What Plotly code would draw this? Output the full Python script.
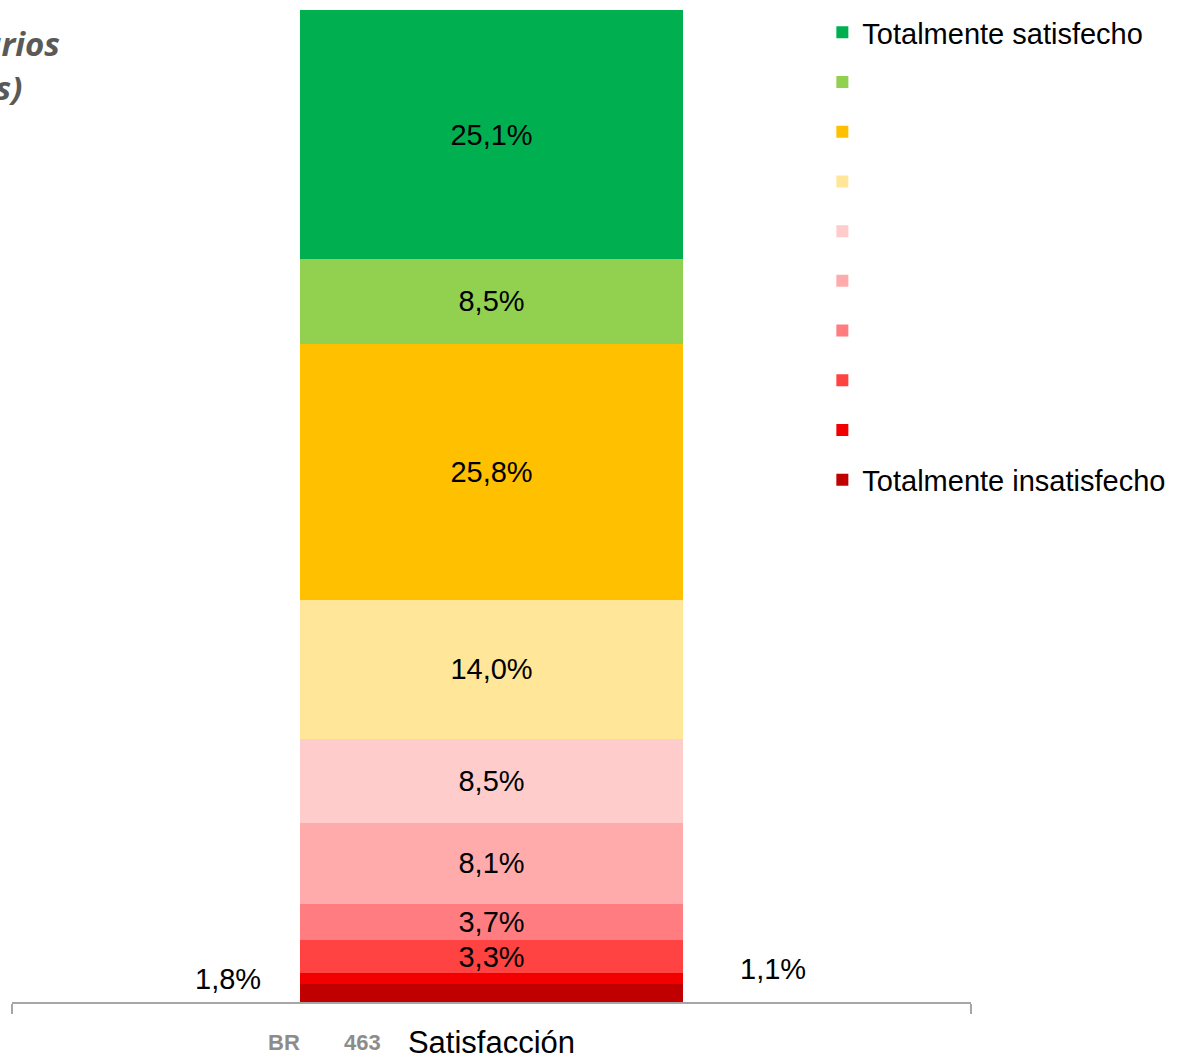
import plotly.graph_objects as go

category = ["Satisfacción"]
levels = ["Totalmente insatisfecho", " ", "  ", "   ", "    ", "     ",
          "      ", "       ", "        ", "Totalmente satisfecho"]
values = [1.8, 1.1, 3.3, 3.7, 8.1, 8.5, 14.0, 25.8, 8.5, 25.1]
colors = ["#C00000", "#F20000", "#FF4343", "#FF7C80", "#FFABAB", "#FFCCCC",
          "#FFE699", "#FFC000", "#92D050", "#00B050"]
inside_label = [False, False, True, True, True, True, True, True, True, True]
group_label = ["BR", "463"]

FONT = "Liberation Sans"
LBL = 29

def fmt(v):
    return f"{v:.1f}".replace(".", ",") + "%"

n = len(values)
fig = go.Figure()
for i, (name, v, c) in enumerate(zip(levels, values, colors)):
    fig.add_trace(go.Bar(
        x=category, y=[v], name=name, marker_color=c, marker_line_width=0,
        width=0.4, legendgroup=str(i), legendrank=n - i,
        text=[fmt(v)] if inside_label[i] else [""],
        textposition="inside", insidetextanchor="middle",
        textfont=dict(family=FONT, size=LBL, color="black"),
        hoverinfo="skip",
    ))

# outside labels for the two thin bottom segments
fig.add_annotation(x=-0.275, y=2.3, xref="x", yref="y", text=fmt(values[0]),
                   showarrow=False, font=dict(family=FONT, size=LBL, color="black"))
fig.add_annotation(x=0.294, y=3.3, xref="x", yref="y", text=fmt(values[1]),
                   showarrow=False, font=dict(family=FONT, size=LBL, color="black"))

# group labels under the axis
fig.add_annotation(x=(284 - 12) / 959, y=-0.0413, xref="paper", yref="paper",
                   xanchor="center", yanchor="middle",
                   text="<b>" + group_label[0] + "</b>", showarrow=False,
                   font=dict(family=FONT, size=22, color="#8C8C8C"))
fig.add_annotation(x=(362 - 12) / 959, y=-0.0413, xref="paper", yref="paper",
                   xanchor="center", yanchor="middle",
                   text="<b>" + group_label[1] + "</b>", showarrow=False,
                   font=dict(family=FONT, size=22, color="#8C8C8C"))

# cut-off title at top-left
fig.add_annotation(x=(62 - 12) / 959, y=(1002 - 43) / 992, xref="paper", yref="paper",
                   xanchor="right", yanchor="middle",
                   text="<b><i>Satisfacción de los usuarios</i></b>", showarrow=False,
                   font=dict(family="Open Sans", size=33, color="#595959"))
fig.add_annotation(x=(24 - 12) / 959, y=(1002 - 88) / 992, xref="paper", yref="paper",
                   xanchor="right", yanchor="middle",
                   text="<b><i>(porcentajes)</i></b>", showarrow=False,
                   font=dict(family="Open Sans", size=33, color="#595959"))

fig.update_layout(
    barmode="stack",
    width=1181, height=1059,
    margin=dict(l=12, r=210, t=10, b=57, autoexpand=False),
    paper_bgcolor="white", plot_bgcolor="white",
    showlegend=True,
    legend=dict(traceorder="grouped", x=0.845, y=1.003, xanchor="left", yanchor="top",
                font=dict(family=FONT, size=29, color="black"),
                tracegroupgap=9, bgcolor="rgba(0,0,0,0)"),
    xaxis=dict(range=[-0.5, 0.5], showline=True, linecolor="#A6A6A6", linewidth=2,
               ticks="outside", tickson="boundaries", ticklen=10, tickcolor="#A6A6A6",
               tickwidth=2, showgrid=False, zeroline=False, ticklabelstandoff=12,
               automargin=False,
               tickfont=dict(family=FONT, size=31, color="black")),
    yaxis=dict(range=[0, 99.9], visible=False, showgrid=False, zeroline=False,
               automargin=False),
    uniformtext=dict(mode="show", minsize=LBL),
)

fig.write_html("out.html")
